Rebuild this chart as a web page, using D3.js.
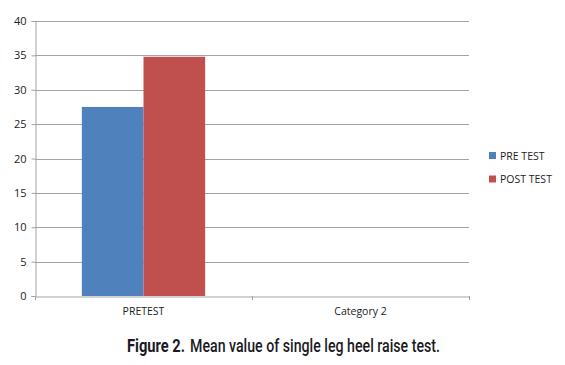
<!DOCTYPE html>
<html>
<head>
<meta charset="utf-8">
<script src="https://cdn.jsdelivr.net/npm/d3@7"></script>
<style>
  body { margin: 0; background: #fff; }
  svg { display: block; }
</style>
</head>
<body>
<div id="chart"></div>
<script>
// chart data
const categories = ['PRETEST', 'Category 2'];
const seriesNames = ['PRE TEST', 'POST TEST'];
const preTest = [27.5, null];
const postTest = [34.8, null];
const yTicks = [0, 5, 10, 15, 20, 25, 30, 35, 40];

const colors = ['#4f81bd', '#c0504d'];

const svgWidth = 565;
const svgHeight = 365;
const margin = { top: 21, right: 96, bottom: 69, left: 35 };
const width = svgWidth - margin.left - margin.right;
const height = svgHeight - margin.top - margin.bottom;

const svg = d3.select('#chart')
  .append('svg')
  .attr('width', svgWidth)
  .attr('height', svgHeight);

const chartGroup = svg.append('g')
  .attr('transform', `translate(${margin.left}, ${margin.top})`);

const xScale = d3.scaleBand()
  .domain(categories)
  .range([0, width])
  .paddingInner(0)
  .paddingOuter(0);

// two bars per category, about 62px each
const inner = d3.scaleBand()
  .domain(seriesNames)
  .range([0, xScale.bandwidth()])
  .paddingOuter(0.76)
  .paddingInner(0);

const yScale = d3.scaleLinear()
  .domain([0, 40])
  .range([height, 0]);

// gridlines
chartGroup.append('g')
  .selectAll('line')
  .data(yTicks.filter(t => t > 0))
  .enter()
  .append('line')
  .attr('x1', 0)
  .attr('x2', width)
  .attr('y1', d => Math.round(yScale(d)) + 0.5)
  .attr('y2', d => Math.round(yScale(d)) + 0.5)
  .attr('stroke', '#a3a3a3')
  .attr('stroke-width', 1);

// bars
const rows = categories.map((c, i) => ({ cat: c, values: [preTest[i], postTest[i]] }));

const groups = chartGroup.selectAll('.cat')
  .data(rows)
  .enter()
  .append('g')
  .attr('transform', d => `translate(${xScale(d.cat)}, 0)`);

groups.selectAll('rect')
  .data(d => d.values.map((v, j) => ({ name: seriesNames[j], value: v, j: j })).filter(e => e.value != null))
  .enter()
  .append('rect')
  .attr('x', d => inner(d.name))
  .attr('width', inner.bandwidth())
  .attr('y', d => yScale(d.value))
  .attr('height', d => height - yScale(d.value))
  .attr('fill', d => colors[d.j]);

// y axis
const yAxis = chartGroup.append('g')
  .attr('transform', 'translate(0.5, 0)')
  .call(d3.axisLeft(yScale).tickValues(yTicks).tickSize(4).tickPadding(5));
yAxis.select('.domain').attr('stroke', '#a3a3a3');
yAxis.selectAll('.tick line').attr('stroke', '#a3a3a3');
yAxis.selectAll('.tick text')
  .attr('fill', '#222')
  .style('font-family', '"Open Sans", "Liberation Sans", sans-serif')
  .style('font-size', '11px');

// x axis
const xAxis = chartGroup.append('g')
  .attr('transform', `translate(0, ${height + 0.5})`)
  .call(d3.axisBottom(xScale).tickSize(0).tickPadding(11));
xAxis.select('.domain').attr('stroke', '#a3a3a3');
xAxis.selectAll('.tick text')
  .attr('fill', '#222')
  .style('font-family', '"Open Sans", "Liberation Sans", sans-serif')
  .style('font-size', '10.5px');

// category separators
chartGroup.append('g')
  .selectAll('line')
  .data([0, 1, 2])
  .enter()
  .append('line')
  .attr('x1', i => Math.round(i * xScale.step()) + 0.5)
  .attr('x2', i => Math.round(i * xScale.step()) + 0.5)
  .attr('y1', height)
  .attr('y2', height + 4)
  .attr('stroke', '#a3a3a3');

// legend
const legend = svg.append('g')
  .attr('transform', 'translate(489, 152)');

const legendItems = legend.selectAll('g')
  .data(seriesNames)
  .enter()
  .append('g')
  .attr('transform', (d, i) => `translate(0, ${i * 23.5})`);

legendItems.append('rect')
  .attr('width', 7)
  .attr('height', 7)
  .attr('fill', (d, i) => colors[i]);

legendItems.append('text')
  .attr('x', 11)
  .attr('y', 4)
  .attr('dy', '0.35em')
  .attr('fill', '#222')
  .style('font-family', '"Open Sans", "Liberation Sans", sans-serif')
  .style('font-size', '10.5px')
  .text(d => d);

// caption, two parts squeezed to a condensed look
const captionParts = [
  { text: 'Figure 2.', x: 127, len: 58, weight: 'bold' },
  { text: 'Mean value of single leg heel raise test.', x: 190, len: 250, weight: '500' }
];

svg.selectAll('.caption')
  .data(captionParts)
  .enter()
  .append('text')
  .attr('class', 'caption')
  .attr('x', d => d.x)
  .attr('y', 352)
  .attr('textLength', d => d.len)
  .attr('lengthAdjust', 'spacingAndGlyphs')
  .attr('fill', '#1a1a24')
  .style('font-family', 'Roboto, "Liberation Sans", sans-serif')
  .style('font-size', '17.5px')
  .style('font-weight', d => d.weight)
  .text(d => d.text);
</script>
</body>
</html>
